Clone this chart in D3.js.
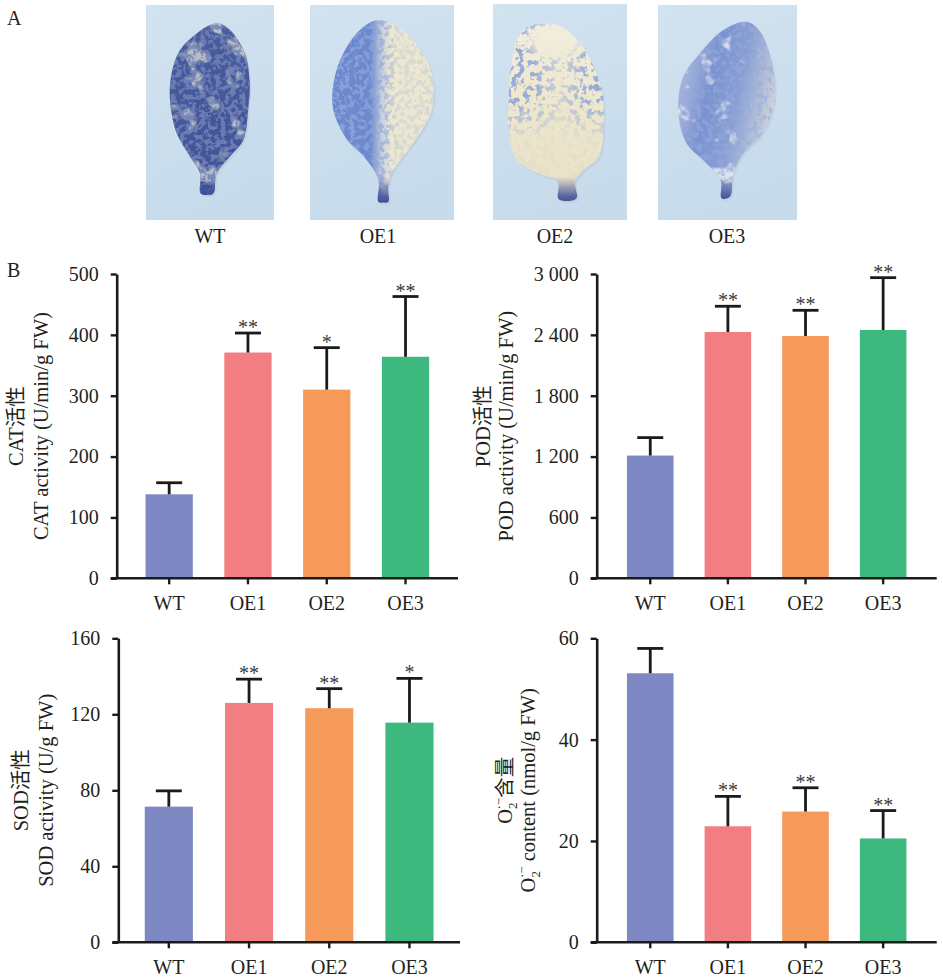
<!DOCTYPE html>
<html>
<head>
<meta charset="utf-8">
<script src="https://cdn.jsdelivr.net/npm/d3@7/dist/d3.min.js"></script>
<style>
  body { margin: 0; background: #fff; }
  svg { display: block; }
  text { font-family: "Liberation Serif", "Noto Sans CJK SC", serif; fill: #231f20; }
</style>
</head>
<body>
<svg id="fig" width="943" height="980"></svg>
<script>
// ---- data ----
const groups = ["WT", "OE1", "OE2", "OE3"];
const barColors = ["#7E88C2", "#F27E82", "#F59A58", "#3DB97F"];

const catMean = [138, 371, 310, 364];
const catErr = [19, 32, 69, 99];
const catSig = ["", "**", "*", "**"];
const catTicks = [0, 100, 200, 300, 400, 500];

const podMean = [1210, 2428, 2389, 2448];
const podErr = [177, 254, 253, 516];
const podSig = ["", "**", "**", "**"];
const podTicks = [0, 600, 1200, 1800, 2400, 3000];

const sodMean = [71.4, 126, 123.2, 115.6];
const sodErr = [8.3, 12.5, 10.3, 23.3];
const sodSig = ["", "**", "**", "*"];
const sodTicks = [0, 40, 80, 120, 160];

const o2Mean = [53.1, 22.9, 25.8, 20.5];
const o2Err = [4.9, 5.9, 4.7, 5.5];
const o2Sig = ["", "**", "**", "**"];
const o2Ticks = [0, 20, 40, 60];

const svg = d3.select("#fig");
const defs = svg.append("defs");

// ---- panel A: stained leaves (drawn, not photos) ----
// base: lamina gradient stops [offset, colour]; dir: gradient vector
// spk: speckle colour, spkCov: speckle threshold (higher = fewer), mask: where speckles go
const photos = [
  { x0: 146, x1: 274, y0: 5, y1: 220, label: "WT", lx: 210, seed: 4,
    dir: [0, 0, 0, 1], base: [[0, "#4a5d9c"], [0.5, "#44579a"], [1, "#3f5193"]],
    pale: "#a4ad9f", paleCov: 4.6, spk: "#2c3a7c", spkCov: 4.2, spkOp: 0.85, freq: 0.2,
    mask: [[0, 1], [1, 1]],
    leaf: [[0.565,0.085],[0.656,0.116],[0.773,0.225],[0.81,0.364],[0.8,0.473],[0.76,0.628],[0.656,0.705],[0.552,0.783],[0.526,0.876],[0.474,0.884],[0.427,0.876],[0.422,0.783],[0.344,0.705],[0.24,0.597],[0.1875,0.442],[0.2,0.318],[0.266,0.209],[0.396,0.132],[0.5,0.093]] },
  { x0: 310, x1: 454, y0: 5, y1: 220, label: "OE1", lx: 378, seed: 9,
    dir: [0, 0, 1, 0], base: [[0.42, "#6d88cc"], [0.5, "#c9d0dc"], [0.56, "#ebe7d0"]],
    pale: null, spk: "#4461b8", spkCov: 4.3, spkOp: 0.85, freq: 0.2,
    mask: [[0.2, 1], [0.5, 0.8], [0.62, 0.25], [1, 0.3]],
    leaf: [[0.475,0.07],[0.625,0.109],[0.787,0.225],[0.856,0.349],[0.845,0.488],[0.764,0.597],[0.648,0.705],[0.579,0.767],[0.544,0.845],[0.544,0.915],[0.509,0.919],[0.475,0.915],[0.475,0.814],[0.375,0.705],[0.26,0.628],[0.162,0.488],[0.167,0.349],[0.231,0.225],[0.347,0.116]] },
  { x0: 493, x1: 627, y0: 4, y1: 220, label: "OE2", lx: 555, seed: 17,
    dir: [0, 0, 0, 1], base: [[0, "#f4f0e0"], [0.5, "#ece6cc"], [1, "#e9e0c6"]],
    pale: null, spk: "#4760b0", spkCov: 4.55, spkOp: 0.95, freq: 0.16,
    mask: [[0, 1], [0.3, 0.95], [0.5, 0.35], [0.7, 0.95], [1, 1]], fadeLow: true,
    leaf: [[0.204,0.136],[0.328,0.093],[0.502,0.102],[0.652,0.182],[0.751,0.29],[0.813,0.398],[0.826,0.568],[0.789,0.707],[0.677,0.769],[0.614,0.823],[0.622,0.9],[0.49,0.904],[0.483,0.823],[0.333,0.784],[0.179,0.722],[0.117,0.599],[0.117,0.444],[0.142,0.259]] },
  { x0: 658, x1: 797, y0: 5, y1: 220, label: "OE3", lx: 727, seed: 23,
    dir: [0, 0, 1, 0.35], base: [[0.1, "#cfd6e6"], [0.45, "#7a92cf"], [0.65, "#8aa0d4"], [0.95, "#e0e0da"]],
    pale: "#dfe2e4", paleCov: 4.9, spk: "#5068bb", spkCov: 4.5, spkOp: 0.7, freq: 0.18,
    mask: [[0, 0.8], [1, 0.8]],
    leaf: [[0.639,0.078],[0.735,0.124],[0.807,0.24],[0.843,0.38],[0.819,0.504],[0.735,0.612],[0.614,0.69],[0.542,0.783],[0.518,0.891],[0.458,0.899],[0.451,0.814],[0.325,0.721],[0.205,0.643],[0.145,0.488],[0.181,0.333],[0.301,0.225],[0.47,0.116]] }
];

const rgbVals = c => { const r = d3.rgb(c); return [r.r / 255, r.g / 255, r.b / 255].map(v => v.toFixed(3)); };

const pA = svg.append("g");
pA.append("text").attr("x", 7).attr("y", 25).style("font-size", "20px").text("A");

photos.forEach((p, i) => {
  const w = p.x1 - p.x0, h = p.y1 - p.y0;
  const g = pA.append("g").attr("transform", `translate(${p.x0},${p.y0})`);

  const bg = defs.append("linearGradient").attr("id", "bg" + i)
    .attr("x1", 0).attr("y1", 0).attr("x2", 0.3).attr("y2", 1);
  bg.append("stop").attr("offset", 0).attr("stop-color", "#d2e3f0");
  bg.append("stop").attr("offset", 1).attr("stop-color", "#c7dbeb");
  g.append("rect").attr("width", w).attr("height", h).attr("fill", `url(#bg${i})`);

  const leafLine = d3.line()
    .x(d => d[0] * w).y(d => d[1] * h)
    .curve(d3.curveCatmullRomClosed.alpha(0.5));
  const leafPath = leafLine(p.leaf);

  // soft shadow under the leaf
  g.append("path").attr("d", leafPath).attr("fill", "#b4c6da").attr("opacity", 0.5)
    .attr("transform", "translate(1.5,2)");

  defs.append("clipPath").attr("id", "leaf" + i).append("path").attr("d", leafPath);

  const lg = defs.append("linearGradient").attr("id", "lg" + i)
    .attr("x1", p.dir[0]).attr("y1", p.dir[1]).attr("x2", p.dir[2]).attr("y2", p.dir[3]);
  p.base.forEach(s => lg.append("stop").attr("offset", s[0]).attr("stop-color", s[1]));

  const leafG = g.append("g").attr("clip-path", `url(#leaf${i})`);
  leafG.append("rect").attr("width", w).attr("height", h).attr("fill", `url(#lg${i})`);

  if (p.pale) {
    const c = rgbVals(p.pale);
    const pf = defs.append("filter").attr("id", "pale" + i)
      .attr("x", 0).attr("y", 0).attr("width", 1).attr("height", 1);
    pf.append("feTurbulence").attr("type", "fractalNoise").attr("baseFrequency", 0.05)
      .attr("numOctaves", 3).attr("seed", p.seed + 50);
    pf.append("feColorMatrix").attr("type", "matrix")
      .attr("values", `0 0 0 0 ${c[0]} 0 0 0 0 ${c[1]} 0 0 0 0 ${c[2]} 8 0 0 0 -${p.paleCov}`);
    leafG.append("rect").attr("width", w).attr("height", h)
      .attr("filter", `url(#pale${i})`).attr("opacity", 0.8);
  }

  // blue speckles of the staining
  const c = rgbVals(p.spk);
  const f = defs.append("filter").attr("id", "spk" + i)
    .attr("x", 0).attr("y", 0).attr("width", 1).attr("height", 1);
  f.append("feTurbulence").attr("type", "fractalNoise").attr("baseFrequency", p.freq)
    .attr("numOctaves", 3).attr("seed", p.seed);
  f.append("feColorMatrix").attr("type", "matrix")
    .attr("values", `0 0 0 0 ${c[0]} 0 0 0 0 ${c[1]} 0 0 0 0 ${c[2]} 9 0 0 0 -${p.spkCov}`);

  const mask = defs.append("mask").attr("id", "m" + i);
  const mg = defs.append("linearGradient").attr("id", "mg" + i);
  p.mask.forEach(s => mg.append("stop").attr("offset", s[0]).attr("stop-color", d3.gray(s[1] * 100)));
  mask.append("rect").attr("width", w).attr("height", h).attr("fill", `url(#mg${i})`);
  if (p.fadeLow) {
    const fg = defs.append("linearGradient").attr("id", "fg" + i)
      .attr("x1", 0).attr("y1", 0).attr("x2", 0).attr("y2", 1);
    fg.append("stop").attr("offset", 0.45).attr("stop-color", "#000").attr("stop-opacity", 0);
    fg.append("stop").attr("offset", 0.62).attr("stop-color", "#000").attr("stop-opacity", 0.9);
    fg.append("stop").attr("offset", 0.8).attr("stop-color", "#000").attr("stop-opacity", 0.9);
    fg.append("stop").attr("offset", 1).attr("stop-color", "#000").attr("stop-opacity", 0.5);
    mask.append("rect").attr("width", w).attr("height", h).attr("fill", `url(#fg${i})`);
    const tg = defs.append("radialGradient").attr("id", "tg" + i);
    tg.append("stop").attr("offset", 0.5).attr("stop-color", "#000").attr("stop-opacity", 1);
    tg.append("stop").attr("offset", 1).attr("stop-color", "#000").attr("stop-opacity", 0);
    mask.append("ellipse").attr("cx", 0.47 * w).attr("cy", 0.17 * h)
      .attr("rx", 0.28 * w).attr("ry", 0.1 * h).attr("fill", `url(#tg${i})`);
  }

  leafG.append("rect").attr("width", w).attr("height", h)
    .attr("filter", `url(#spk${i})`).attr("mask", `url(#m${i})`).attr("opacity", p.spkOp);

  // stained petiole tip
  const pg = defs.append("linearGradient").attr("id", "pg" + i)
    .attr("x1", 0).attr("y1", 0).attr("x2", 0).attr("y2", 1);
  pg.append("stop").attr("offset", 0).attr("stop-color", "#3e4c98").attr("stop-opacity", 0);
  pg.append("stop").attr("offset", 0.7).attr("stop-color", "#3e4c98").attr("stop-opacity", 0.85);
  pg.append("stop").attr("offset", 1).attr("stop-color", "#3a3f80").attr("stop-opacity", 0.95);
  leafG.append("rect").attr("x", 0).attr("y", 0.8 * h).attr("width", w).attr("height", 0.13 * h)
    .attr("fill", `url(#pg${i})`);

  pA.append("text").attr("x", p.lx).attr("y", 243).attr("text-anchor", "middle")
    .style("font-size", "20px").text(p.label);
});

// ---- panel B: four bar charts ----
svg.append("text").attr("x", 7).attr("y", 277).style("font-size", "20px").text("B");

const spaced = d => d >= 1000 ? d3.format(",")(d).replace(",", " ") : String(d);

const panels = [
  { mean: catMean, err: catErr, sig: catSig, ticks: catTicks, max: 500,
    ax: 116.7, xEnd: 458, yTop: 274, yBot: 578.3, pad: 0.366,
    lab1: "CAT活性", lab2: "CAT activity (U/min/g FW)", b1: 22.7, b2: 47.7 },
  { mean: podMean, err: podErr, sig: podSig, ticks: podTicks, max: 3000,
    ax: 596.7, xEnd: 936.7, yTop: 274, yBot: 578.3, pad: 0.39,
    lab1: "POD活性", lab2: "POD activity (U/min/g FW)", b1: 490, b2: 513.3 },
  { mean: sodMean, err: sodErr, sig: sodSig, ticks: sodTicks, max: 160,
    ax: 118.3, xEnd: 460, yTop: 638.3, yBot: 942.3, pad: 0.33,
    lab1: "SOD活性", lab2: "SOD activity (U/g FW)", b1: 28.3, b2: 53.3 },
  { mean: o2Mean, err: o2Err, sig: o2Sig, ticks: o2Ticks, max: 60,
    ax: 596.7, xEnd: 936.7, yTop: 638.3, yBot: 942.3, pad: 0.39,
    lab1: null, lab2: null, b1: 511.7, b2: 535 }
];

panels.forEach(p => {
  const g = svg.append("g");
  const x = d3.scaleBand().domain(groups).range([p.ax, p.xEnd])
    .paddingInner(0.4).paddingOuter(p.pad);
  const y = d3.scaleLinear().domain([0, p.max]).range([p.yBot, p.yTop]);

  const rows = groups.map((k, i) => ({ k, m: p.mean[i], e: p.err[i], s: p.sig[i], c: barColors[i] }));

  g.selectAll("rect.bar").data(rows).join("rect").attr("class", "bar")
    .attr("x", d => x(d.k)).attr("width", x.bandwidth())
    .attr("y", d => y(d.m)).attr("height", d => y(0) - y(d.m))
    .attr("fill", d => d.c);

  // error bars (upper half only)
  const capW = 26;
  g.selectAll("line.ev").data(rows).join("line").attr("class", "ev")
    .attr("x1", d => x(d.k) + x.bandwidth() / 2).attr("x2", d => x(d.k) + x.bandwidth() / 2)
    .attr("y1", d => y(d.m)).attr("y2", d => y(d.m + d.e))
    .attr("stroke", "#1b1b1b").attr("stroke-width", 2.8);
  g.selectAll("line.ec").data(rows).join("line").attr("class", "ec")
    .attr("x1", d => x(d.k) + x.bandwidth() / 2 - capW / 2).attr("x2", d => x(d.k) + x.bandwidth() / 2 + capW / 2)
    .attr("y1", d => y(d.m + d.e)).attr("y2", d => y(d.m + d.e))
    .attr("stroke", "#1b1b1b").attr("stroke-width", 2.8);

  g.selectAll("text.sig").data(rows.filter(d => d.s)).join("text").attr("class", "sig")
    .attr("x", d => x(d.k) + x.bandwidth() / 2).attr("y", d => y(d.m + d.e) + 1)
    .attr("text-anchor", "middle").style("font-size", "20px").style("fill", "#3a3a3a")
    .text(d => d.s);

  // axes
  const yAxis = d3.axisLeft(y).tickValues(p.ticks).tickFormat(spaced)
    .tickSize(6).tickPadding(12).tickSizeOuter(0);
  const ya = g.append("g").attr("transform", `translate(${p.ax},0)`).call(yAxis);
  const xAxis = d3.axisBottom(x).tickSize(6).tickPadding(12).tickSizeOuter(0);
  const xa = g.append("g").attr("transform", `translate(0,${p.yBot})`).call(xAxis);
  xa.select(".domain").remove();
  xa.append("line").attr("x1", p.ax - 6).attr("x2", p.xEnd)
    .attr("stroke", "#1b1b1b").attr("stroke-width", 2.6);

  [ya, xa].forEach(a => {
    a.selectAll(".domain").attr("stroke", "#1b1b1b").attr("stroke-width", 2.6);
    a.selectAll(".tick line").attr("stroke", "#1b1b1b").attr("stroke-width", 2.4);
    a.selectAll(".tick text").style("font-family", '"Liberation Serif", serif')
      .style("font-size", "20px").style("fill", "#231f20");
  });

  // y titles, two lines, rotated
  const cy = (p.yTop + p.yBot) / 2;
  if (p.lab1) {
    g.append("text").attr("transform", `translate(${p.b1},${cy}) rotate(-90)`)
      .attr("text-anchor", "middle").style("font-size", "20.5px").text(p.lab1);
    g.append("text").attr("transform", `translate(${p.b2},${cy}) rotate(-90)`)
      .attr("text-anchor", "middle").style("font-size", "20.5px").text(p.lab2);
  } else {
    const t1 = g.append("text").attr("transform", `translate(${p.b1},${cy}) rotate(-90)`)
      .attr("text-anchor", "middle").style("font-size", "20.5px");
    t1.append("tspan").text("O");
    t1.append("tspan").attr("dy", 5).style("font-size", "13px").text("2");
    t1.append("tspan").attr("dx", -7).attr("dy", -14).style("font-size", "13px").text("·−");
    t1.append("tspan").attr("dy", 9).text("含量");
    const t2 = g.append("text").attr("transform", `translate(${p.b2},${cy}) rotate(-90)`)
      .attr("text-anchor", "middle").style("font-size", "20.5px");
    t2.append("tspan").text("O");
    t2.append("tspan").attr("dy", 5).style("font-size", "13px").text("2");
    t2.append("tspan").attr("dx", -7).attr("dy", -14).style("font-size", "13px").text("·−");
    t2.append("tspan").attr("dy", 9).text(" content (nmol/g FW)");
  }
});
</script>
</body>
</html>
